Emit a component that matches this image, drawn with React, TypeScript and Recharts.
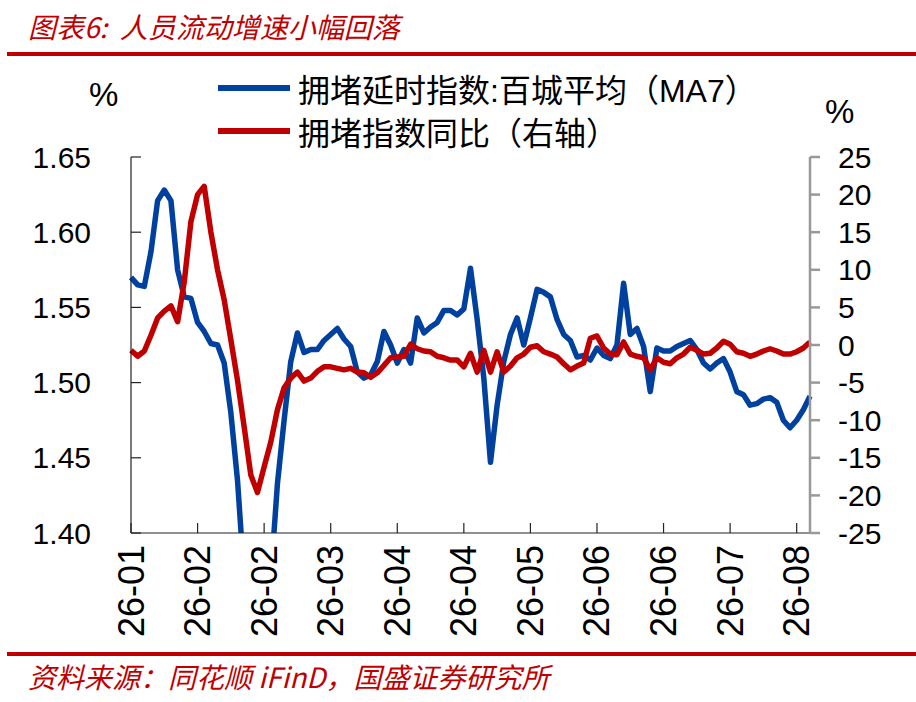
import { LineChart, Line, XAxis, YAxis } from "recharts";

const TICK_LABELS = ["26-01", "26-02", "26-02", "26-03", "26-04", "26-04", "26-05", "26-06", "26-06", "26-07", "26-08"];
const X_TICKS = [0, 10, 20, 30, 40, 50, 60, 70, 80, 90, 100];
const LEFT_TICKS = [1.4, 1.45, 1.5, 1.55, 1.6, 1.65];
const RIGHT_TICKS = [-25, -20, -15, -10, -5, 0, 5, 10, 15, 20, 25];

// 拥堵延时指数:百城平均(MA7), left axis
const CONGESTION_MA7 = [
    1.570, 1.565, 1.564, 1.587, 1.621, 1.628, 1.621, 1.575, 1.557, 1.556,
    1.540, 1.534, 1.526, 1.525, 1.513, 1.480, 1.435, 1.370, 1.340, 1.330,
    1.340, 1.370, 1.433, 1.475, 1.514, 1.533, 1.520, 1.522, 1.522, 1.528,
    1.532, 1.536, 1.529, 1.524, 1.507, 1.503, 1.505, 1.514, 1.534, 1.525,
    1.513, 1.522, 1.513, 1.543, 1.533, 1.537, 1.540, 1.548, 1.548, 1.545,
    1.549, 1.576, 1.542, 1.503, 1.447, 1.485, 1.514, 1.532, 1.543, 1.525,
    1.543, 1.562, 1.560, 1.557, 1.542, 1.532, 1.528, 1.517, 1.518, 1.515,
    1.523, 1.518, 1.516, 1.525, 1.566, 1.532, 1.536, 1.524, 1.494, 1.523,
    1.521, 1.521, 1.524, 1.526, 1.528, 1.522, 1.513, 1.509, 1.513, 1.516,
    1.507, 1.494, 1.492, 1.485, 1.486, 1.489, 1.490, 1.487, 1.475, 1.470,
    1.475, 1.482, 1.491,
];

// 拥堵指数同比, right axis (%)
const CONGESTION_YOY = [
    -0.7, -1.5, -0.8, 1.3, 3.6, 4.5, 5.2, 3.1, 8.4, 16.4,
    20.0, 21.1, 15.0, 10.0, 6.0, 0.7, -4.7, -10.9, -17.3, -19.6,
    -16.2, -12.9, -8.6, -5.7, -4.4, -3.6, -4.8, -4.4, -3.5, -2.9,
    -2.9, -3.1, -3.3, -3.1, -3.6, -3.7, -4.3, -3.7, -2.7, -1.7,
    -1.6, -1.5, 0.1, -0.5, -0.8, -0.9, -1.5, -1.7, -2.0, -2.0,
    -2.9, -1.1, -3.6, -0.7, -3.6, -0.9, -3.6, -2.8, -1.7, -1.2,
    -0.3, -0.1, -0.9, -1.2, -1.6, -2.5, -3.3, -2.8, -2.4, 0.9,
    1.2, -0.4, -1.2, -1.3, 0.4, -1.2, -1.5, -1.7, -3.3, -1.7,
    -2.3, -2.5, -1.7, -1.2, -0.3, -0.7, -1.2, -1.1, -0.4, 0.5,
    0.1, -0.9, -1.1, -1.5, -1.2, -0.8, -0.5, -0.8, -1.2, -1.2,
    -0.9, -0.4, 0.4,
];

const data = CONGESTION_MA7.map((v, i) => ({ idx: i, ma7: v, yoy: CONGESTION_YOY[i] }));

const BLUE = "#0041A0";
const RED = "#C00000";
const NUM_FONT = "'Liberation Sans', Arial, sans-serif";
const CJK_FONT = "'Liberation Sans', 'Noto Sans CJK SC', sans-serif";

function DateTick(props: any) {
    const { x, y, payload } = props;
    const label = TICK_LABELS[Math.round(payload.value / 10)];
    return (
        <text
            x={x}
            y={y}
            transform={`rotate(-90 ${x} ${y})`}
            textAnchor="end"
            dominantBaseline="central"
            fontSize={36}
            fontFamily={NUM_FONT}
            fill="#000"
        >
            {label}
        </text>
    );
}

function LegendRow({ color, text, top }: { color: string; text: string; top: number }) {
    return (
        <div style={{ position: "absolute", left: 218, top, height: 44, display: "flex", alignItems: "center" }}>
            <div style={{ width: 72, height: 6, background: color }} />
            <span style={{ marginLeft: 8, fontSize: 32, fontFamily: CJK_FONT, color: "#000", whiteSpace: "nowrap" }}>
                {text}
            </span>
        </div>
    );
}

export default function App() {
    return (
        <div style={{ position: "fixed", left: 0, top: 0, width: 916, height: 702, background: "#fff", overflow: "hidden" }}>
            <div
                style={{
                    position: "absolute", left: 28, top: 6, fontSize: 28, fontStyle: "italic",
                    fontFamily: "'Noto Sans CJK SC', sans-serif", color: RED, whiteSpace: "nowrap",
                }}
            >
                图表6:&nbsp;&nbsp;人员流动增速小幅回落
            </div>
            <div style={{ position: "absolute", left: 7, top: 52, width: 909, height: 4, background: RED }} />

            <LegendRow color={BLUE} text="拥堵延时指数:百城平均（MA7）" top={66} />
            <LegendRow color={RED} text="拥堵指数同比（右轴）" top={109} />

            <div style={{ position: "absolute", left: 89, top: 76, fontSize: 33, fontFamily: NUM_FONT }}>%</div>
            <div style={{ position: "absolute", left: 825, top: 93, fontSize: 33, fontFamily: NUM_FONT }}>%</div>

            <div style={{ position: "absolute", left: 0, top: 0 }}>
                <LineChart width={916} height={702} data={data} margin={{ top: 157, right: 0, bottom: 0, left: 0 }}>
                    <XAxis
                        dataKey="idx"
                        type="number"
                        domain={[0, 102]}
                        ticks={X_TICKS}
                        interval={0}
                        height={169}
                        tickSize={-10}
                        tickMargin={22}
                        axisLine={{ stroke: "#222", strokeWidth: 1.2 }}
                        tickLine={{ stroke: "#222", strokeWidth: 1.2 }}
                        tick={<DateTick />}
                    />
                    <YAxis
                        yAxisId="left"
                        domain={[1.4, 1.65]}
                        ticks={LEFT_TICKS}
                        interval={0}
                        allowDataOverflow
                        width={131}
                        tickSize={-10}
                        tickMargin={50}
                        tickFormatter={(v: number) => v.toFixed(2)}
                        tick={{ fill: "#000", fontSize: 30, fontFamily: NUM_FONT }}
                        axisLine={{ stroke: "#222", strokeWidth: 1.2 }}
                        tickLine={{ stroke: "#222", strokeWidth: 1.2 }}
                    />
                    <YAxis
                        yAxisId="right"
                        orientation="right"
                        domain={[-25, 25]}
                        ticks={RIGHT_TICKS}
                        interval={0}
                        allowDataOverflow
                        width={106}
                        tickSize={10}
                        tickMargin={18}
                        tick={{ fill: "#000", fontSize: 30, fontFamily: NUM_FONT, textAnchor: "start" }}
                        axisLine={{ stroke: "#999", strokeWidth: 2.5 }}
                        tickLine={{ stroke: "#999", strokeWidth: 2.5 }}
                    />
                    <Line
                        yAxisId="left"
                        dataKey="ma7"
                        type="linear"
                        stroke={BLUE}
                        strokeWidth={5.5}
                        strokeLinejoin="round"
                        dot={false}
                        isAnimationActive={false}
                    />
                    <Line
                        yAxisId="right"
                        dataKey="yoy"
                        type="linear"
                        stroke={RED}
                        strokeWidth={5.5}
                        strokeLinejoin="round"
                        dot={false}
                        isAnimationActive={false}
                    />
                </LineChart>
            </div>

            <div style={{ position: "absolute", left: 7, top: 652, width: 909, height: 4, background: RED }} />
            <div
                style={{
                    position: "absolute", left: 28, top: 656, fontSize: 28, fontStyle: "italic",
                    fontFamily: "'Noto Sans CJK SC', sans-serif", color: RED, whiteSpace: "nowrap",
                }}
            >
                资料来源：同花顺 iFinD，国盛证券研究所
            </div>
        </div>
    );
}
